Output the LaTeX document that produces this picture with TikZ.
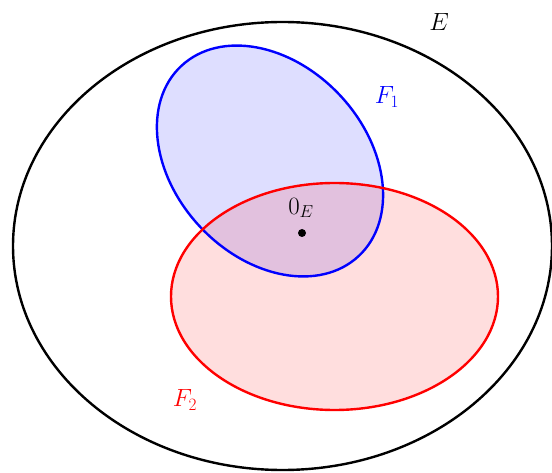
\documentclass[tikz,border=0pt]{standalone}
\usepackage{amsmath}
\begin{document}
\begin{tikzpicture}[x=1pt,y=-1pt,
  setline/.style={line width=2.4pt},
  lbl/.style={font=\fontsize{25}{29}\selectfont, inner sep=0pt}]
\useasboundingbox (0,0) rectangle (552,473);
% E
\draw[setline, black] (282.5,246) ellipse [x radius=269.5, y radius=224];
% F1
\fill[blue, fill opacity=0.13] (270,161) ellipse [x radius=130, y radius=96, rotate=-47];
% F2
\fill[red, fill opacity=0.13] (334.5,296.5) ellipse [x radius=163.5, y radius=113.5];
\draw[setline, blue] (270,161) ellipse [x radius=130, y radius=96, rotate=-47];
\draw[setline, red] (334.5,296.5) ellipse [x radius=163.5, y radius=113.5];
% origin
\fill (302,233) circle [radius=4];
\node[lbl] (o) at (301,208) {$0_E$};
\node[lbl] (e) at (439,22) {$E$};
\node[lbl, blue] (f1) at (387,97) {$F_1$};
\node[lbl, red] (f2) at (185,400) {$F_2$};
\end{tikzpicture}
\end{document}
